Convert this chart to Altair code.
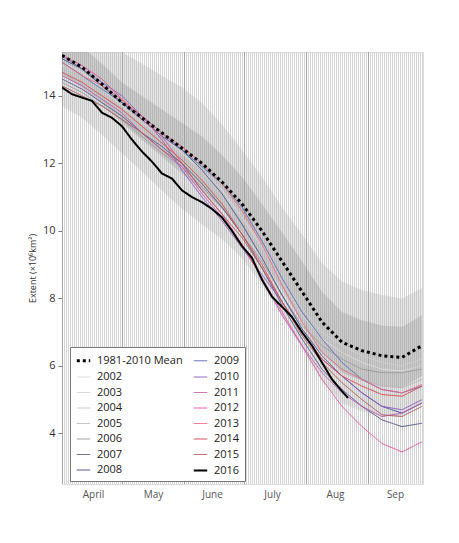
import altair as alt
import pandas as pd

# ---------------- data ----------------
days = [0, 10, 20, 30, 40, 50, 60, 70, 80, 90, 100, 110, 120, 130, 140, 150, 160, 170, 180]

mean_1981_2010 = [15.2, 14.85, 14.35, 13.8, 13.35, 12.9, 12.45, 12.0, 11.45, 10.8, 10.0, 9.1, 8.2, 7.3, 6.7, 6.45, 6.3, 6.25, 6.6]
outer_upper = [16.7, 16.35, 15.85, 15.3, 14.95, 14.6, 14.25, 13.8, 13.15, 12.4, 11.6, 10.7, 9.9, 9.05, 8.5, 8.25, 8.1, 8.0, 8.3]
inner_upper = [15.8, 15.45, 14.95, 14.4, 14.0, 13.6, 13.2, 12.8, 12.25, 11.6, 10.8, 9.95, 9.1, 8.2, 7.6, 7.35, 7.2, 7.15, 7.5]
inner_lower = [14.6, 14.25, 13.75, 13.2, 12.7, 12.2, 11.7, 11.2, 10.65, 10.0, 9.2, 8.25, 7.3, 6.4, 5.8, 5.55, 5.4, 5.35, 5.7]
outer_lower = [13.7, 13.35, 12.85, 12.3, 11.75, 11.2, 10.65, 10.2, 9.75, 9.2, 8.4, 7.5, 6.5, 5.55, 4.9, 4.65, 4.5, 4.5, 4.9]

y2002 = [15.0, 14.7, 14.2, 13.7, 13.2, 12.8, 12.3, 11.8, 11.2, 10.4, 9.5, 8.5, 7.5, 6.8, 6.4, 6.1, 5.9, 5.85, 6.0]
y2003 = [14.9, 14.6, 14.3, 13.8, 13.3, 12.8, 12.3, 11.7, 11.1, 10.4, 9.6, 8.6, 7.7, 7.0, 6.6, 6.3, 6.1, 6.0, 6.2]
y2004 = [14.6, 14.4, 14.0, 13.5, 13.1, 12.6, 12.1, 11.6, 11.0, 10.3, 9.5, 8.5, 7.5, 6.9, 6.4, 6.0, 5.8, 5.8, 6.0]
y2005 = [14.7, 14.3, 13.9, 13.4, 12.9, 12.4, 11.9, 11.3, 10.7, 10.0, 9.1, 8.1, 7.1, 6.4, 5.9, 5.6, 5.4, 5.35, 5.6]
y2006 = [14.4, 14.1, 13.7, 13.3, 12.8, 12.3, 11.9, 11.3, 10.7, 9.9, 9.1, 8.1, 7.2, 6.6, 6.2, 5.9, 5.8, 5.8, 5.9]
y2007 = [14.5, 14.2, 13.8, 13.4, 12.9, 12.5, 12.0, 11.4, 10.7, 9.9, 8.9, 7.8, 6.8, 5.9, 5.3, 4.8, 4.4, 4.2, 4.3]
y2008 = [15.1, 14.8, 14.3, 13.8, 13.3, 12.8, 12.4, 11.8, 11.1, 10.2, 9.2, 8.1, 7.1, 6.3, 5.7, 5.2, 4.8, 4.6, 4.9]
y2009 = [15.0, 14.6, 14.2, 13.8, 13.4, 12.9, 12.4, 11.9, 11.4, 10.7, 9.7, 8.6, 7.6, 6.8, 6.1, 5.6, 5.3, 5.2, 5.4]
y2010 = [15.2, 14.8, 14.4, 14.0, 13.4, 12.7, 11.8, 11.0, 10.3, 9.5, 8.7, 7.9, 7.0, 6.2, 5.7, 5.2, 4.8, 4.7, 5.0]
y2011 = [14.6, 14.3, 13.9, 13.5, 12.9, 12.4, 11.9, 11.1, 10.4, 9.6, 8.6, 7.5, 6.6, 5.8, 5.2, 4.8, 4.5, 4.6, 4.9]
y2012 = [15.2, 14.9, 14.5, 13.9, 13.3, 12.8, 12.0, 11.2, 10.5, 9.6, 8.6, 7.6, 6.6, 5.6, 4.8, 4.2, 3.7, 3.45, 3.75]
y2013 = [15.0, 14.6, 14.3, 13.9, 13.4, 12.9, 12.5, 12.0, 11.4, 10.6, 9.6, 8.4, 7.3, 6.4, 5.9, 5.6, 5.3, 5.2, 5.45]
y2014 = [14.7, 14.4, 14.0, 13.6, 13.1, 12.6, 12.1, 11.5, 10.8, 9.9, 9.0, 7.9, 7.0, 6.2, 5.7, 5.4, 5.15, 5.1, 5.4]
y2015 = [14.3, 14.0, 13.7, 13.3, 12.9, 12.4, 12.0, 11.2, 10.5, 9.8, 8.9, 7.9, 6.9, 6.1, 5.5, 5.0, 4.55, 4.5, 4.8]

days_2016 = [0, 5, 10, 15, 20, 25, 30, 35, 40, 45, 50, 55, 60, 65, 70, 75, 80, 85, 90, 95, 100, 105, 110, 115, 120, 125, 130, 135, 140, 143]
y2016 = [14.25, 14.05, 13.95, 13.85, 13.5, 13.35, 13.1, 12.7, 12.35, 12.05, 11.7, 11.55, 11.2, 11.0, 10.85, 10.65, 10.4, 10.0, 9.55, 9.2, 8.55, 8.05, 7.75, 7.45, 7.0, 6.6, 6.1, 5.6, 5.25, 5.05]

years = {"2002": y2002, "2003": y2003, "2004": y2004, "2005": y2005, "2006": y2006,
         "2007": y2007, "2008": y2008, "2009": y2009, "2010": y2010, "2011": y2011,
         "2012": y2012, "2013": y2013, "2014": y2014, "2015": y2015}

colors = {"1981-2010 Mean": "#000000",
          "2002": "#dedede", "2003": "#d2d2d2", "2004": "#c6c6c6", "2005": "#b8b8b8",
          "2006": "#9c9c9c", "2007": "#56568a", "2008": "#4a4e92", "2009": "#5b6cb6",
          "2010": "#8a5cc0", "2011": "#c25bb4", "2012": "#e9559c", "2013": "#ee6a80",
          "2014": "#de474c", "2015": "#b05c5c", "2016": "#000000"}

month_starts = [0, 30, 61, 91, 122, 153]
month_centers = [15.5, 45.5, 75, 105, 136.5, 166.5]
grid_days = list(range(0, 181))
y_ticks = [4, 6, 8, 10, 12, 14]

order = ["1981-2010 Mean"] + [str(y) for y in range(2002, 2017)]

# ---------------- frames ----------------
rows = []
for name, vals in years.items():
    for d, v in zip(days, vals):
        rows.append({"series": name, "day": d, "extent": v})
years_df = pd.DataFrame(rows)
df2016 = pd.DataFrame({"series": "2016", "day": days_2016, "extent": y2016})
mean_df = pd.DataFrame({"series": "1981-2010 Mean", "day": days, "extent": mean_1981_2010})
band_df = pd.DataFrame({"day": days, "ou": outer_upper, "iu": inner_upper,
                        "il": inner_lower, "ol": outer_lower})
grid_df = pd.DataFrame({"day": grid_days})
month_df = pd.DataFrame({"day": month_starts})

FONT = "Open Sans"
xscale = alt.Scale(domain=[0, 180.5], nice=False, zero=False)
yscale = alt.Scale(domain=[2.5, 15.3], nice=False, zero=False)

label_expr = ("datum.value < 30 ? 'April' : datum.value < 61 ? 'May' : datum.value < 91 ? 'June' : "
              "datum.value < 122 ? 'July' : datum.value < 153 ? 'Aug' : 'Sep'")
xaxis = alt.Axis(values=month_centers, labelExpr=label_expr, title=None, ticks=False,
                 domain=False, grid=False, labelFont=FONT, labelFontSize=10,
                 labelColor="#555", labelPadding=5)
yaxis = alt.Axis(values=y_ticks, title="Extent (×10⁶km²)", grid=False, domain=False,
                 tickSize=4, tickColor="#777", labelFont=FONT, labelFontSize=11,
                 labelColor="#333", labelPadding=3, titleFont=FONT, titleFontSize=9,
                 titleFontWeight="normal", titleColor="#333", titlePadding=5)

X = alt.X("day:Q", scale=xscale, axis=xaxis)

color_scale = alt.Scale(domain=order, range=[colors[s] for s in order])
dash_scale = alt.Scale(domain=order, range=[[3, 3] if s == "1981-2010 Mean" else [1, 0] for s in order])
width_scale = alt.Scale(type="ordinal", domain=order,
                        range=[3 if s == "1981-2010 Mean" else (2.0 if s == "2016" else 1) for s in order])

grid = alt.Chart(grid_df).mark_rule(color="#d4d4d4", strokeWidth=1, xOffset=0.5).encode(x=X)
months = alt.Chart(month_df).mark_rule(color="#a6a6a6", strokeWidth=1, xOffset=0.5).encode(x=X)
outer = alt.Chart(band_df).mark_area(color="#b0b0b0", opacity=0.32, clip=True).encode(
    x=X, y=alt.Y("ol:Q", scale=yscale, axis=yaxis), y2="ou:Q")
inner = alt.Chart(band_df).mark_area(color="#8a8a8a", opacity=0.28, clip=True).encode(
    x=X, y=alt.Y("il:Q", scale=yscale, axis=yaxis), y2="iu:Q")

legend = alt.Legend(title=None, orient="none", legendX=8, legendY=295, columns=2,
                    direction="vertical", symbolType="stroke", symbolSize=180,
                    labelFont=FONT, labelFontSize=11, labelColor="#222",
                    rowPadding=2.5, columnPadding=6, fillColor="white", strokeColor="#777",
                    padding=5, labelLimit=200, labelOffset=5)


def enc(ch):
    return ch.encode(
        x=X,
        y=alt.Y("extent:Q", scale=yscale, axis=yaxis),
        color=alt.Color("series:N", scale=color_scale, legend=legend),
        strokeDash=alt.StrokeDash("series:N", scale=dash_scale, legend=legend),
        strokeWidth=alt.StrokeWidth("series:N", scale=width_scale, legend=legend),
        detail="series:N",
    )


year_lines = enc(alt.Chart(years_df).mark_line(clip=True))
line2016 = enc(alt.Chart(df2016).mark_line(clip=True))
mean_line = enc(alt.Chart(mean_df).mark_line(clip=True))

chart = alt.layer(grid, months, outer, inner, year_lines, line2016, mean_line).properties(
    width=361, height=432,
    autosize=alt.AutoSizeParams(type="none"),
    padding={"left": 54, "top": 44, "right": 20, "bottom": 40},
).configure_view(stroke="#8a8a8a", strokeWidth=1).configure(background="white")

chart.save("out.html", embed_options={"renderer": "svg", "actions": False})
